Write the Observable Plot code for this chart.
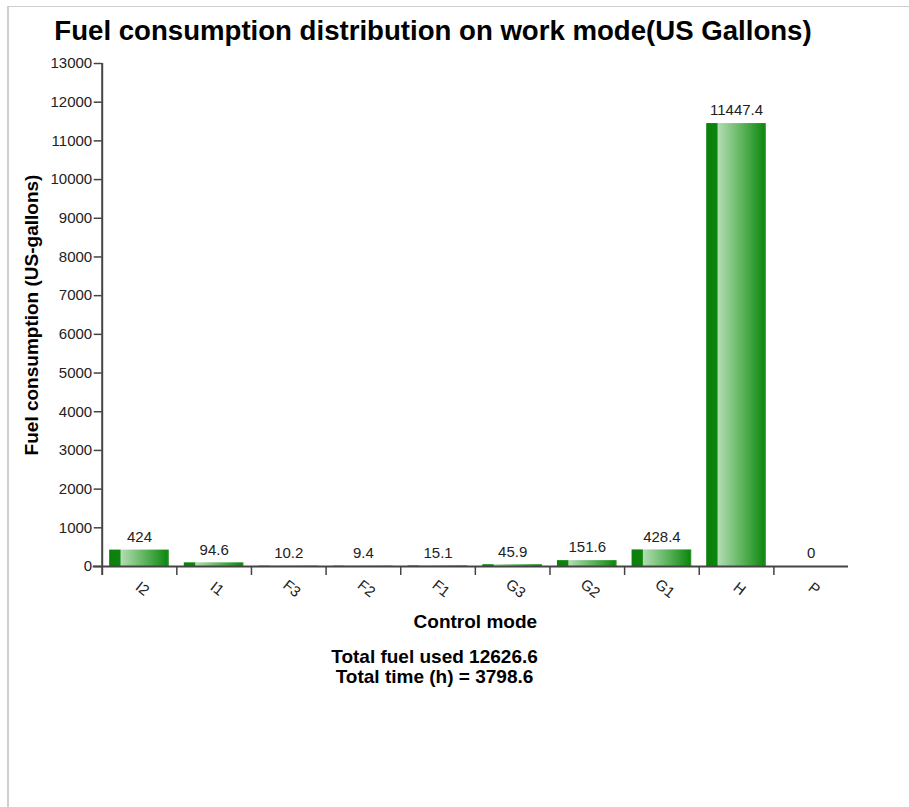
<!DOCTYPE html>
<html>
<head>
<meta charset="utf-8">
<script src="https://cdn.jsdelivr.net/npm/d3@7"></script>
<script src="https://cdn.jsdelivr.net/npm/@observablehq/plot@0.6"></script>
<style>
  html, body { margin: 0; padding: 0; background: #fff; }
  body { width: 909px; height: 807px; position: relative; overflow: hidden; font-family: "Liberation Sans", Arial, sans-serif; }
  #frame { position: absolute; left: 7px; top: 6px; right: 0; bottom: 0; border-top: 1px solid #cfcfcf; border-left: 2px solid #cfcfcf; }
  #title { position: absolute; left: 0; width: 866px; top: 17px; text-align: center; font-size: 27.6px; line-height: 27px; font-weight: bold; color: #000; white-space: nowrap; }
  #chart { position: absolute; left: 0; top: 50px; }
  .foot { position: absolute; left: 0; width: 869px; text-align: center; font-size: 19px; line-height: 20px; font-weight: bold; color: #000; white-space: nowrap; }
</style>
</head>
<body>
<div id="frame"></div>
<div id="title">Fuel consumption distribution on work mode(US Gallons)</div>
<div id="chart"></div>
<div class="foot" id="foot1" style="top:647px">Total fuel used 12626.6</div>
<div class="foot" id="foot2" style="top:667px">Total time (h) = 3798.6</div>
<script>
// ---- data ----
const modes = ["I2", "I1", "F3", "F2", "F1", "G3", "G2", "G1", "H", "P"];
const fuel = [424, 94.6, 10.2, 9.4, 15.1, 45.9, 151.6, 428.4, 11447.4, 0];
const valueLabels = ["424", "94.6", "10.2", "9.4", "15.1", "45.9", "151.6", "428.4", "11447.4", "0"];
const yTicks = [0, 1000, 2000, 3000, 4000, 5000, 6000, 7000, 8000, 9000, 10000, 11000, 12000, 13000];
const xTitle = "Control mode";
const yTitle = "Fuel consumption (US-gallons)";

const rows = modes.map((m, i) => ({mode: m, value: fuel[i], label: valueLabels[i]}));

const W = 909, H = 600;
const mL = 101.7, mR = 61, mT = 13, mB = 84;
const step = (W - mL - mR) / modes.length;
const axisColor = "#444";

const svg = Plot.plot({
  width: W,
  height: H,
  marginTop: mT,
  marginBottom: mB,
  marginLeft: mL,
  marginRight: mR,
  style: {fontFamily: "'Liberation Sans', Arial, sans-serif", fontSize: "15px", color: "#222", background: "none"},
  x: {domain: modes, paddingInner: 0.2, paddingOuter: 0.1, round: false, axis: null},
  y: {domain: [0, 13000], axis: null},
  marks: [
    Plot.barY(rows, {x: "mode", y: "value", fill: "url(#barGrad)"}),
    Plot.text(rows, {x: "mode", y: "value", text: "label", dy: -13, fontSize: 15, fill: "#222"}),
    // y axis
    Plot.axisY({ticks: yTicks, tickSize: 8, tickPadding: 2, tickFormat: d => String(d), fontSize: 15, stroke: axisColor, strokeWidth: 1.5, label: null}),
    // x axis baseline
    Plot.ruleY([0], {stroke: axisColor, strokeWidth: 2, insetLeft: -9}),
    // y axis line + boundary ticks
    Plot.ruleX(modes.slice(0, 1), {x: d => d, dx: -step / 2, y1: 13000, y2: 0, insetBottom: -9, stroke: axisColor, strokeWidth: 2}),
    Plot.ruleX(modes.slice(1), {x: d => d, dx: -step / 2, y1: 0, y2: 0, insetBottom: -9, stroke: axisColor, strokeWidth: 1.5}),
    // rotated category labels
    Plot.text(modes, {x: d => d, frameAnchor: "bottom", dy: 26, rotate: 38, text: d => d, textAnchor: "middle", fontSize: 15, fill: "#222"}),
    // axis titles
    Plot.text([xTitle], {frameAnchor: "bottom", dy: 61, text: d => d, fontSize: 19, fontWeight: "bold", fill: "#000"}),
    Plot.text([yTitle], {frameAnchor: "left", dx: -70, rotate: -90, text: d => d, textAnchor: "middle", fontSize: 19, fontWeight: "bold", fill: "#000"})
  ]
});

// gradient definition for the bars
const ns = "http://www.w3.org/2000/svg";
const defs = document.createElementNS(ns, "defs");
const grad = document.createElementNS(ns, "linearGradient");
grad.setAttribute("id", "barGrad");
grad.setAttribute("x1", "0"); grad.setAttribute("y1", "0");
grad.setAttribute("x2", "1"); grad.setAttribute("y2", "0");
[["0", "#0b7f0b"], ["0.18", "#0d850d"], ["0.2", "#b2dcb2"], ["0.6", "#5db45d"], ["0.97", "#108810"], ["1", "#3a9e3a"]].forEach(([o, c]) => {
  const s = document.createElementNS(ns, "stop");
  s.setAttribute("offset", o);
  s.setAttribute("stop-color", c);
  grad.appendChild(s);
});
defs.appendChild(grad);
svg.insertBefore(defs, svg.firstChild);

document.getElementById("chart").appendChild(svg);
</script>
</body>
</html>
